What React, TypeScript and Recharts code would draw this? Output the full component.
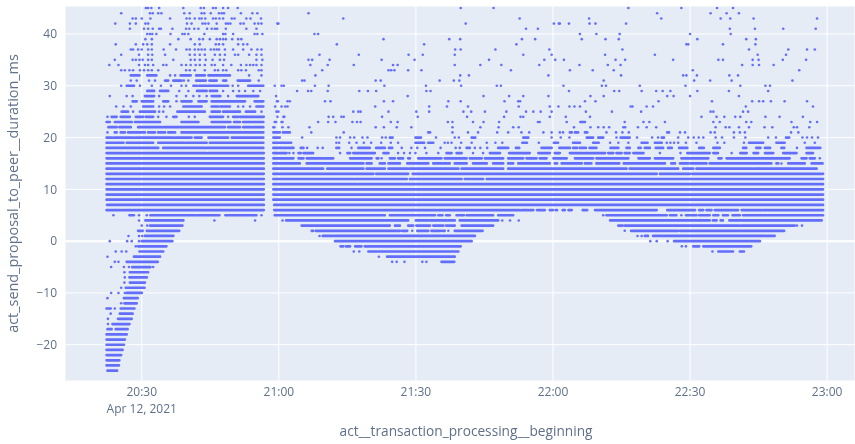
import React from 'react';
import { ComposedChart, Line, Scatter, XAxis, YAxis, CartesianGrid, ReferenceLine, Label } from 'recharts';

// x values are minutes after 20:00 on Apr 12, 2021, y values are ms
const xTicks = [30, 60, 90, 120, 150, 180];
const yTicks = [-20, -10, 0, 10, 20, 30, 40];

// isolated samples per duration row: [ms, [minutes...]]
const dotRows: [number, number[]][] = [
  [45, [30.9, 31.4, 32.1, 33.8, 39.1, 42.9, 43.6, 45.6, 46.2, 47.8, 48.9, 51, 99.8, 107, 136.5, 148.1, 155.9, 159.4]],
  [44, [25.5, 31.8, 32.4, 33.6, 34.3, 39.3, 40.5, 43.1, 43.7, 45.1, 46.9, 47.5, 48, 51.7, 54.2, 55.3, 66.5, 142.8, 154.5, 158, 160.7]],
  [43, [28, 28.7, 30, 31.9, 36.2, 39.8, 40.5, 41.6, 42.6, 43.1, 43.9, 45.6, 46.2, 47, 47.8, 49.7, 50.3, 52.9, 53.8, 56.1, 74.1, 112.7, 127.9, 143.7, 156.7, 158.8, 163.9, 177.8]],
  [42, [24.2, 27.4, 28.7, 30.8, 31.4, 39.9, 40.9, 43.3, 43.9, 44.6, 46.4, 48.4, 48.9, 49.4, 51.6, 52.3, 54.7, 55.5, 56.2, 59.7, 59.9, 100.9, 120.2, 121.3, 121.5, 123.5, 128, 129.3, 136]],
  [41, [27.4, 30.5, 31.4, 32.4, 33.8, 34.2, 36.7, 39.7, 40.4, 41.5, 42.4, 44.3, 45.3, 46, 46.5, 48.4, 52.9, 55.1, 114.1, 116.7, 158.7, 164.2, 170.4, 177.5]],
  [40, [31.2, 31.8, 32.3, 33.2, 36.3, 38.9, 39.4, 40.2, 43.7, 47.8, 48.3, 50, 54.7, 55.3, 56.4, 67.8, 68.6, 125.9, 129.5, 134.6, 150, 158.9]],
  [39, [30.8, 32.2, 38, 40.7, 42.6, 43.4, 44.9, 46.4, 47.1, 47.8, 48.4, 49.8, 51.1, 51.8, 82.9, 97.3, 99.7, 113.2, 116.1, 126.3, 131.5, 134.4, 151.6, 162.3, 164.4]],
  [38, [24.3, 28.7, 30.3, 31.2, 32.2, 36.2, 41.6, 42.7, 46.2, 46.9, 47.8, 51.1, 52.2, 53.1, 72.7, 91.8, 112, 149.2, 149.6, 157.2, 164.3]],
  [37, [27.6, 28.1, 29.2, 30, 31.4, 32.2, 34.8, 37.5, 39.8, 40.5, 41.6, 42.4, 43.1, 43.8, 45.1, 45.8, 46.4, 46.9, 48.2, 50, 52.2, 54, 55.3, 56.2, 98.6, 99.8, 107.4, 119.2, 135.2, 162.9, 171.5, 175.6, 177.3]],
  [36, [25.5, 29.4, 31.4, 32.3, 35.1, 40.5, 41.6, 42.7, 43.8, 46, 47.1, 48.2, 50.4, 51.1, 53.5, 55.1, 56.2, 68.9, 77.5, 88.4, 91.5, 98.5, 113.5, 119.7, 131.4, 142.3, 164.8, 171]],
  [35, [24.1, 28, 28.7, 29.5, 30.2, 31.4, 32.2, 36.9, 40.7, 41.6, 42.7, 44, 45.5, 47.1, 48, 55.1, 56.4, 66.5, 67.3, 71.1, 82.5, 89.7, 106, 118.1, 120.5, 122.4, 133.7, 135.8, 146.3, 156.2, 157.2, 163.7, 165, 170.3, 175.4]],
  [34, [22.9, 24.9, 29.4, 30.7, 31.4, 32.5, 34.7, 35.4, 38.7, 39.7, 40.7, 41.8, 42.7, 43.8, 45.3, 46, 47.8, 49.6, 51.7, 52.9, 53.7, 54.4, 55.1, 56.2, 66.9, 70.7, 76.4, 85, 86, 98.5, 104.1, 108.7, 117, 125.8, 132, 134.8, 161.4, 163.7, 165.1, 168.3]],
  [33, [25.5, 26.3, 27.3, 28.1, 29.6, 30.5, 31.4, 32.2, 33.6, 39.7, 40.5, 41.6, 43.8, 46, 46.7, 47.8, 48.5, 51.1, 51.8, 52.8, 55.6, 56.2, 69.5, 84, 84.6, 85.3, 88.3, 91.2, 110.8, 123.7, 128.7, 133.3, 150.6, 173.9]],
  [32, [36.2, 37.3, 53.5, 56.2, 68, 99.7, 101.6, 119, 134.9, 148.5, 149.2, 151.5, 158.6, 160.5]],
  [31, [27.6, 28.9, 31.6, 32.9, 39.2, 40.2, 55.6, 65.1, 65.6, 81.2, 82.3, 95.2, 98.3, 99.5, 131.1, 150.9, 154.4, 159.1, 172.4]],
  [30, [25.5, 29.6, 32.2, 34.2, 36.4, 38.7, 39.7, 49.9, 51.1, 59.1, 60.6, 61.1, 67.9, 70.9, 83.1, 92.2, 99.9, 107.7, 108.6, 122.3, 130.7, 131.6, 139, 149, 161, 166.5, 167.5]],
  [29, [38.2, 40.2, 47.8, 50, 51.3, 52.6, 54.4, 55.9, 64, 66.4, 67.1, 70.7, 77.6, 79.5, 81.3, 92.3, 93.2, 123.5, 133.4, 134.5, 139.4, 142.6, 144, 145.7, 151.6, 158.5, 167.1]],
  [28, [23, 26.7, 28, 33.8, 37.6, 39.7, 41.3, 42.6, 44.2, 48.9, 59.4, 88.2, 104.8, 110.4, 113.5, 119, 128.2, 131.1, 145, 146.4, 150, 160.7]],
  [27, [37.6, 59.6, 59.8, 61.9, 62.4, 70.1, 71.3, 83, 85, 97.1, 99.8, 109.4, 112.4, 112.8, 127, 129.3, 143.1, 154.8, 163.6, 165.1, 166, 167.7, 170.7, 175.6]],
  [26, [24.4, 26, 27.6, 33.8, 34.9, 36.2, 51.1, 52.2, 53.7, 59.2, 60.6, 61.4, 61.9, 81.1, 92.9, 96.8, 101.4, 112.5, 119.3, 121.2, 123.6, 124.7, 125.9, 137, 137.4, 140.5, 141.9, 162.2, 176.9]],
  [25, [28.1, 33.8, 34.7, 56.2, 59.5, 59.9, 76.3, 77.4, 77.9, 84, 90.1, 92.9, 100.4, 102.1, 105.1, 109.8, 114.1, 115.7, 117.3, 119.7, 127.2, 132.9, 139.3, 154.5, 155.1, 161.6, 162.7]],
  [24, [22.5, 33.6, 35.4, 40.3, 41.6, 48.9, 59.7, 61, 61.2, 70.9, 71.9, 73.7, 74.2, 82.6, 90.4, 101.2, 109.3, 112.9, 113.5, 119.3, 122.8, 128.1, 152.5, 155.8, 157.5, 159.9, 161, 166.5, 169.6, 174.7]],
  [23, [59.1, 59.4, 60.6, 60.8, 68.6, 70.8, 72.4, 76.1, 77.1, 77.9, 84.5, 86, 97, 98, 102.5, 104.8, 108.2, 116.7, 117.1, 123, 135.7, 139.8, 141.1, 144.5, 155.1, 156.5, 162.3, 163.4, 172.2, 176.3, 177.8]],
  [22, [58.8, 59, 60.8, 62.1, 66.7, 81.2, 83, 85.8, 89, 98, 104.1, 108.1, 111.3, 112.5, 124.6, 128.2, 129.9, 131.1, 132.3, 135.4, 135.8, 138.6, 140.5, 142.6, 155.6, 157.8, 158.6, 160.7, 162.9, 166.3, 168, 172.7, 173.4, 176.1]],
  [21, [22.5, 67.1, 74.2, 98, 101.4, 103.6, 107.8, 110.2, 113.1, 114.8, 117.9, 119.7, 121.5, 122.2, 131.7, 133.8, 135.2, 136.6, 147.8, 148.9, 154.5, 155.4, 159.6, 160.9, 162, 172.1, 173.7]],
  [20, [65.1, 72.6, 73.4, 75.6, 76.5, 78.3, 79.4, 82.6, 83.4, 94.4, 98.5, 99.4, 119.7, 121.7, 123.6, 133.9, 138.4, 141.7, 143, 147.4, 149.6, 150.8, 151.9, 152.9, 155.6, 157, 159.6, 162.1, 167.1, 168.8, 174.6, 175.6, 176.7, 178]],
  [19, [62.7, 72.6, 73.2, 75.4, 77, 78.6, 80.2, 82.4, 84.5, 86.1, 96.3, 97, 97.8, 99.9, 102.2, 105.5, 107.4, 108.9, 116.9, 132.5, 134.3, 136.5, 144.9, 145.7, 146.5, 147.4, 149.1, 151.4, 156, 157.5, 161.8, 175.1, 177.3]],
  [18, [66.2, 68.5, 69.6, 75.9, 86.9, 89, 90.3, 92, 95.4, 98.7, 99.6, 102.9, 104.1, 105.6, 173.4]],
  [17, [62.3, 63.2, 73.4, 86.1, 87.4, 88.7, 89.9, 92.3, 94.9, 102.5, 104.7, 143.4, 147.9, 159.1]],
  [16, [82.5, 178.4]],
  [15, [170]],
  [5, [23.8, 29.4, 31.1, 56.2, 97.4, 131, 148.1]],
  [4, [29.4, 45.9, 54.8, 60.8, 108.9, 110.6, 112.5]],
  [3, [30, 31.2, 173.4, 174.5]],
  [2, [89.2, 97.1, 135.7]],
  [1, [27.1, 29.4, 30.1, 68.9, 138.5, 139.4]],
  [0, [23, 26.8, 27.8, 29.4, 141.3, 142.7, 145.1]],
  [-1, [28.7, 148.2, 149.1]],
  [-2, [24.3, 25.6, 26.6, 76.4, 77.6, 154.9]],
  [-3, [22.5, 81.9]],
  [-4, [24.1, 24.9, 84.8, 85.8, 87.5, 91.4, 92.3]],
  [-5, [23.3, 26.1, 27.2, 32.5]],
  [-6, [26.2]],
  [-7, [26.3]],
  [-8, [26.2]],
  [-9, [25.5]],
  [-10, [23.3, 24.9, 26.3]],
  [-11, [22.5]],
  [-12, [25.5]],
  [-13, [24.1]],
  [-14, [23.2]],
  [-15, [22.6]],
  [-16, [22.6]],
];

// runs of samples too tightly packed to tell apart: [ms, [from, to, from, to...]]
const spanRows: [number, number[]][] = [
  [32, [27.6, 29.5, 31.2, 33.2, 38.5, 40.7, 41.9, 43.8, 44.6, 49.3]],
  [31, [35.1, 35.8, 36.9, 38.7, 41.9, 44, 44.8, 46.4, 47.8, 48.5, 51, 53.7]],
  [30, [26.7, 28.3, 41.3, 42.1, 42.6, 44.2, 44.6, 48.9, 53.3, 56.6]],
  [29, [31.2, 32.7, 34, 35.8, 42.1, 44.2, 44.9, 46.5]],
  [28, [30.7, 32.7, 45.3, 47.2, 50.8, 55.5]],
  [27, [28, 28.9, 30, 32.5, 34.7, 35.8, 38.7, 40.9, 42.4, 44.2, 45.3, 52.6, 54.7, 56.6]],
  [26, [30.3, 32.5, 39.1, 43.1, 45.3, 46.7, 47.2, 49.3, 55.1, 56.6]],
  [25, [25.6, 27, 29.6, 32.9, 37.8, 43.8, 45.3, 47.1, 47.8, 51.5, 52.8, 54.8]],
  [24, [23.4, 24.5, 25.4, 27.4, 28.7, 30.3, 30.9, 32.5, 36.9, 37.6, 44.9, 47.8, 50, 51.1, 51.5, 56.7]],
  [23, [22.3, 23, 24.1, 27.8, 28.5, 34, 38.7, 42.4, 45.3, 49.4, 50.2, 51.5, 52.2, 56.6, 126, 127]],
  [22, [22.7, 24.5, 25.1, 27.6, 29.2, 34.3, 34.7, 48.2, 48.9, 51.5, 52.2, 54, 54.4, 56.6]],
  [21, [24.1, 24.5, 25.4, 26.3, 27, 30.7, 31.4, 32.9, 33.6, 35.1, 35.8, 37.3, 38.7, 56.6, 58.8, 60.2, 60.9, 62.4, 92.7, 93.1, 123.7, 124.1, 124.8, 125.5, 127, 127.5, 145, 145.4]],
  [20, [22.3, 23.4, 23.8, 26, 26.3, 28.1, 28.5, 35.1, 35.4, 36.9, 37.3, 40.9, 41.6, 43.1, 44.6, 48.9, 49.7, 56.6, 58.8, 60.2, 84.3, 84.9, 89.9, 91.1, 102.2, 103, 113.5, 114.6, 127.4, 128.8, 129.9, 131, 134.8, 136.8, 143.8, 144.3, 171, 171.7]],
  [19, [22.3, 26, 26.7, 32.5, 33.6, 39.4, 39.8, 44.2, 44.9, 56.6, 58.8, 62.4, 89.9, 91.8, 92.7, 93.8, 113.3, 114.3, 120.2, 121.1, 124.4, 125.9, 128.8, 130, 139.4, 140.7, 142.3, 143.8, 162.9, 166, 168.9, 170.7]],
  [18, [22.3, 33.6, 34.7, 56.6, 58.8, 63.2, 64.8, 65.4, 72.6, 73.2, 77.4, 79.9, 81.3, 83.2, 84.1, 84.8, 101.1, 101.8, 108, 110.2, 111.9, 112.6, 117.5, 119.7, 121.4, 123.7, 124.4, 125.3, 125.9, 127.2, 128, 129.5, 132.6, 134.3, 136.1, 136.8, 138.7, 139.2, 140.1, 141.2, 142.5, 144.1, 145.2, 146, 147.6, 149.4, 152, 153, 155.1, 156.5, 161.6, 162.3, 164.5, 165.4, 166.4, 167.5, 170, 170.6, 175.5, 178.5]],
  [17, [22.3, 26.1, 26.5, 30.3, 30.7, 38, 38.2, 44.2, 44.6, 56.7, 58.8, 61.7, 64.3, 64.8, 65.4, 67.5, 75, 75.6, 76.3, 81, 82.9, 84, 96.7, 97.8, 98.9, 100, 106.2, 108.4, 110.4, 114.9, 116.8, 119.3, 120.4, 121.5, 123.7, 126.6, 127, 128.1, 128.4, 131.4, 132.1, 133.2, 133.9, 135, 135.7, 136.8, 137.6, 139.8, 149.4, 154.3, 155.1, 156.1, 161, 162.4, 163.9, 164.9, 166.4, 168.2, 170.4, 173.3, 175.5, 176.9]],
  [16, [22.3, 56.7, 58.8, 63.2, 64.3, 65.4, 66.1, 69.7, 70.1, 71.9, 75.6, 80.3, 81.4, 81.8, 84.3, 85.4, 86.1, 87.2, 88.3, 88.7, 90.5, 95.6, 96.3, 101.1, 101.8, 104.4, 105.1, 109.1, 110.2, 113.5, 114.2, 116.4, 117.1, 118.6, 120.1, 123, 124.8, 128.8, 129.5, 136.5, 138.7, 141.2, 142.3, 146.3, 148.1, 154, 156.2, 156.9, 158, 171.8, 174.4, 175.5, 176.2, 177.3]],
  [15, [22.3, 56.7, 58.8, 64.6, 66.1, 78.5, 79.2, 80.3, 82.1, 83.2, 84, 86.5, 88.1, 92.7, 93.8, 95.6, 96, 97.4, 98.5, 101.1, 102.5, 105.5, 106.9, 109.1, 110.2, 111.3, 112.4, 119.3, 120.4, 120.9, 121.9, 126.3, 127, 128.4, 129.5, 134.5, 135.5, 144.5, 145.9, 146.7, 147.8, 149.6, 150.1, 153.6, 154.3, 156.9, 157.2, 167.8, 168.9, 169.3, 171.5, 175.1, 176.6, 179]],
  [14, [22.3, 56.7, 58.8, 69.7, 70.6, 78.5, 79.2, 83.2, 84, 88.3, 88.7, 99.3, 100, 109.1, 110.2, 136.1, 136.8, 147.4, 148.5, 150.7, 151.4, 163.8, 164.2, 177.7]],
  [13, [22.3, 56.7, 58.8, 80.7, 81.3, 88.3, 89.3, 142.7, 143.4, 150, 150.5, 179.1]],
  [12, [22.3, 56.7, 58.8, 76.3, 76.7, 88, 88.7, 100, 100.7, 104.7, 105.5, 179.1]],
  [11, [22.3, 56.7, 58.8, 77.3, 77.6, 179.1]],
  [10, [22.3, 56.7, 58.8, 179.1]],
  [9, [22.3, 56.7, 58.8, 179.1]],
  [8, [22.3, 56.7, 58.8, 179.1]],
  [7, [22.4, 56.7, 59, 179.1]],
  [6, [22.3, 25.4, 25.7, 56.7, 59, 94.5, 94.9, 112.7, 113.1, 114.6, 115, 115.7, 116.5, 118.2, 119.3, 120, 120.6, 120.9, 122.1, 122.6, 123.4, 124.1, 126.5, 127.5, 129.2, 139.8, 140, 142.7, 145, 147.8, 148.1, 151.1, 152, 152.9, 153.6, 154.7, 155.4, 160.5, 161.3, 165.6, 166, 179.1]],
  [5, [27.3, 28.3, 31.9, 33.6, 33.8, 41.6, 42, 47, 48.3, 55.1, 59.1, 83.2, 84.3, 94.2, 94.9, 95.8, 96.6, 97.1, 98.9, 100.5, 101.1, 106.9, 108, 111.3, 131.7, 144.9, 145.6, 147, 149.1, 151.4, 152, 154.3, 155.1, 156.2, 157.2, 158.3, 159.3, 160.9, 161.6, 179.1]],
  [4, [30.8, 32.5, 32.7, 39.1, 61.6, 88.3, 90, 92.7, 93.1, 96.7, 97.1, 98.5, 99.6, 108, 132.5, 154.3, 155, 155.8, 156.7, 157.2, 158.6, 177.7, 177.9, 178.8]],
  [3, [31.8, 38.9, 65, 84.3, 85.4, 86.5, 88.3, 89.4, 90.1, 93.1, 93.8, 96, 96.6, 98.5, 100, 106.9, 134.3, 135.2, 135.7, 160.9, 161.3, 172.9]],
  [2, [29.2, 30.2, 31.1, 38.2, 67.2, 67.5, 68.1, 86.5, 87, 88.1, 90.3, 92.7, 93.4, 95.4, 95.8, 96.3, 98.5, 104.6, 137.1, 147.4, 147.8, 170.6]],
  [1, [30.7, 36.9, 69.6, 102.9, 140.1, 140.8, 141.9, 166.4, 166.7, 168.5]],
  [0, [30, 36.7, 72.3, 102.2, 146.5, 165.3]],
  [-1, [29.2, 35.4, 73.5, 74.1, 74.7, 75.6, 76.7, 78.1, 78.8, 99.8, 150.7, 152, 152.9, 163.4]],
  [-2, [29.5, 34.7, 79.6, 99.3, 156.2, 158, 158.3, 159.4, 160.9, 161.8]],
  [-3, [28.3, 34, 83.7, 98.5]],
  [-4, [26.7, 33.5, 95.6, 98.4]],
  [-5, [27.9, 31.9]],
  [-6, [27.4, 31.4]],
  [-7, [27.3, 31.1]],
  [-8, [27.4, 30.7]],
  [-9, [26.5, 30.6]],
  [-10, [26.7, 30]],
  [-11, [26.1, 29.1]],
  [-12, [26.2, 28.9]],
  [-13, [22.3, 23.2, 25.4, 28.4]],
  [-14, [25.2, 28]],
  [-15, [24.8, 27.8]],
  [-16, [23.6, 24.4, 24.6, 27.3]],
  [-17, [22.5, 23.4, 24.3, 26.9]],
  [-18, [22.3, 26.7]],
  [-19, [22.3, 26.3]],
  [-20, [22.3, 26.1]],
  [-21, [22.3, 25.8]],
  [-22, [22.3, 25.5]],
  [-23, [22.3, 25.1]],
  [-24, [22.3, 25]],
  [-25, [22.5, 24.6]],
];

const dotData = dotRows.flatMap(([y, xs]) => xs.map((x) => ({ x, y })));

// null rows break the line between runs
const spanData: { x: number; y: number | null }[] = [];
spanRows.forEach(([y, xs]) => {
  for (let i = 0; i < xs.length; i += 2) {
    spanData.push({ x: xs[i], y }, { x: xs[i + 1], y }, { x: xs[i + 1], y: null });
  }
});

const formatClock = (m: number) => {
  const h = 20 + Math.floor(m / 60);
  const min = m % 60;
  return `${h}:${min < 10 ? '0' : ''}${min}`;
};

const FONT = '"Open Sans", sans-serif';
const TICK_COLOR = '#5f7089';

const XTick = ({ x, y, payload }: any) => (
  <g>
    <text x={x} y={y + 13} textAnchor="middle" fontFamily={FONT} fontSize={12} fill={TICK_COLOR}>
      {formatClock(payload.value)}
    </text>
    {payload.value === 30 && (
      <text x={x} y={y + 30} textAnchor="middle" fontFamily={FONT} fontSize={12} fill={TICK_COLOR}>
        Apr 12, 2021
      </text>
    )}
  </g>
);

const Dot = ({ cx, cy }: any) => <circle cx={cx} cy={cy} r={1.3} fill="#636efa" />;

export default function App() {
  return (
    <div style={{ position: 'absolute', left: 0, top: 0, width: 855, height: 444, filter: 'blur(0.6px)' }}>
      <ComposedChart width={855} height={444} margin={{ top: 6, right: 0, bottom: 0, left: 0 }}>
        <CartesianGrid fill="#e5ecf6" stroke="#ffffff" strokeWidth={1} />
        <XAxis
          type="number"
          dataKey="x"
          domain={[13.2, 186.1]}
          ticks={xTicks}
          allowDataOverflow
          height={63}
          axisLine={false}
          tickLine={false}
          tickSize={0}
          tick={<XTick />}
        >
          <Label
            value="act__transaction_processing__beginning"
            position="insideBottom"
            offset={8}
            dx={6}
            style={{ fontFamily: FONT, fontSize: 13.7, fill: TICK_COLOR }}
          />
        </XAxis>
        <YAxis
          type="number"
          dataKey="y"
          domain={[-27, 45.4]}
          ticks={yTicks}
          allowDataOverflow
          width={65}
          axisLine={false}
          tickLine={false}
          tickSize={0}
          tickMargin={8}
          tickFormatter={(v: number) => String(v).replace('-', '\u2212')}
          tick={{ fontFamily: FONT, fontSize: 12, fill: TICK_COLOR }}
        >
          <Label
            value="act_send_proposal_to_peer__duration_ms"
            angle={-90}
            position="insideLeft"
            offset={13}
            style={{ fontFamily: FONT, fontSize: 14.4, fill: TICK_COLOR, textAnchor: 'middle' }}
          />
        </YAxis>
        <ReferenceLine y={0} stroke="#ffffff" strokeWidth={2} />
        <Line
          data={spanData}
          dataKey="y"
          type="linear"
          stroke="#636efa"
          strokeWidth={2.7}
          strokeLinecap="round"
          dot={false}
          activeDot={false}
          connectNulls={false}
          isAnimationActive={false}
        />
        <Scatter data={dotData} dataKey="y" fill="#636efa" shape={<Dot />} isAnimationActive={false} />
      </ComposedChart>
    </div>
  );
}
